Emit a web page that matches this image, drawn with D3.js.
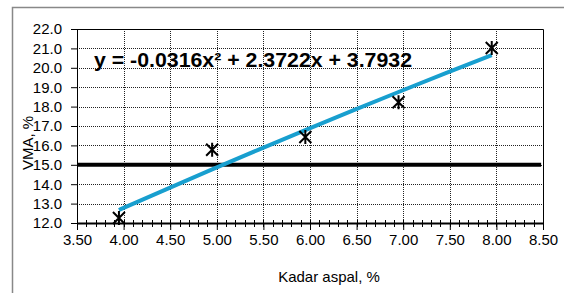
<!DOCTYPE html>
<html>
<head>
<meta charset="utf-8">
<script src="https://cdn.jsdelivr.net/npm/d3@7"></script>
<style>
  body { margin: 0; background: #fff; }
  text { font-family: "Liberation Sans", Arial, sans-serif; }
</style>
</head>
<body>
<svg width="564" height="293"></svg>
<script>
// measured data
const kadarAspal = [3.95, 4.95, 5.95, 6.95, 7.95];
const vma = [12.26, 15.78, 16.43, 18.22, 21.02];
const fitCoef = [-0.0316, 2.3722, 3.7932];
const fitX = [3.95, 4.45, 4.95, 5.45, 5.95, 6.45, 6.95, 7.45, 7.95];
const batasVma = 15.0;
const xTicks = [3.5, 4.0, 4.5, 5.0, 5.5, 6.0, 6.5, 7.0, 7.5, 8.0, 8.5];
const yTicks = [12, 13, 14, 15, 16, 17, 18, 19, 20, 21, 22];

const margin = {top: 29, right: 21, bottom: 70, left: 77};
const width = 564 - margin.left - margin.right;
const height = 293 - margin.top - margin.bottom;

const root = d3.select('svg');

// outer chart border (only left/top visible)
root.append('rect')
    .attr('x', 12.5).attr('y', 7.5)
    .attr('width', 600).attr('height', 320)
    .attr('fill', 'none')
    .attr('stroke', '#888').attr('stroke-width', 1.5);

const svg = root.append('g')
    .attr('transform', 'translate(' + margin.left + ',' + margin.top + ')');

const x = d3.scaleLinear().domain([3.5, 8.5]).range([0, width]);
const y = d3.scaleLinear().domain([12, 22]).range([height, 0]);

// gridlines
svg.append('g').selectAll('line.gx')
    .data(xTicks.slice(1, -1))
    .enter().append('line')
    .attr('x1', d => Math.round(x(d)) + 0.5).attr('x2', d => Math.round(x(d)) + 0.5)
    .attr('y1', 0).attr('y2', height)
    .attr('stroke', '#222').attr('stroke-width', 1)
    .attr('stroke-dasharray', '1,1');
svg.append('g').selectAll('line.gy')
    .data(yTicks.slice(1, -1))
    .enter().append('line')
    .attr('x1', 0).attr('x2', width)
    .attr('y1', d => Math.round(y(d)) + 0.5).attr('y2', d => Math.round(y(d)) + 0.5)
    .attr('stroke', '#222').attr('stroke-width', 1)
    .attr('stroke-dasharray', '1,1');

// plot border top/right
svg.append('path')
    .attr('d', 'M0,0.5H' + (width + 0.5) + 'V' + height)
    .attr('fill', 'none').attr('stroke', '#000');

// minor x ticks
const minor = d3.range(35, 86).map(d => d / 10);
svg.append('g').selectAll('line.mt')
    .data(minor)
    .enter().append('line')
    .attr('x1', d => Math.round(x(d)) + 0.5).attr('x2', d => Math.round(x(d)) + 0.5)
    .attr('y1', height - 3).attr('y2', height + 4)
    .attr('stroke', '#000');

// x axis
const xAxis = svg.append('g')
    .attr('transform', 'translate(0,' + height + ')')
    .call(d3.axisBottom(x).tickValues(xTicks).tickFormat(d3.format('.2f')).tickSize(7).tickSizeOuter(0));
xAxis.select('.domain').attr('stroke-width', 2);
xAxis.selectAll('text').attr('font-size', 15).attr('fill', '#000').attr('dy', '0.82em')
    .attr('font-family', '"Liberation Sans", Arial, sans-serif');

// y axis
const yAxis = svg.append('g')
    .call(d3.axisLeft(y).tickValues(yTicks).tickFormat(d3.format('.1f')).tickSize(6).tickSizeOuter(0));
yAxis.selectAll('text').attr('font-size', 15).attr('fill', '#000').attr('x', -15)
    .attr('font-family', '"Liberation Sans", Arial, sans-serif');

// batas VMA line
svg.append('line')
    .attr('x1', x(3.5)).attr('x2', x(8.48))
    .attr('y1', y(batasVma)).attr('y2', y(batasVma))
    .attr('stroke', '#000').attr('stroke-width', 4);

// trend line
const fit = v => fitCoef[0] * v * v + fitCoef[1] * v + fitCoef[2];
const line = d3.line()
    .x(d => x(d))
    .y(d => y(fit(d)))
    .curve(d3.curveMonotoneX);
svg.append('path')
    .datum(fitX)
    .attr('d', line)
    .attr('fill', 'none')
    .attr('stroke', '#189fcf')
    .attr('stroke-width', 4);

// star markers
const pts = kadarAspal.map((k, i) => ({k: k, v: vma[i]}));
const s = 6;
svg.append('g').selectAll('path.pt')
    .data(pts)
    .enter().append('path')
    .attr('transform', d => 'translate(' + x(d.k) + ',' + y(d.v) + ')')
    .attr('d', 'M' + (-s) + ',' + (-s) + 'L' + s + ',' + s + 'M' + s + ',' + (-s) + 'L' + (-s) + ',' + s + 'M0,' + (-s - 1) + 'V' + (s + 1))
    .attr('stroke', '#000').attr('stroke-width', 2).attr('fill', 'none');

// equation
svg.append('text')
    .attr('x', 94 - margin.left).attr('y', 67 - margin.top)
    .attr('font-size', 20).attr('font-weight', 'bold')
    .attr('textLength', 318).attr('lengthAdjust', 'spacingAndGlyphs')
    .text('y = -0.0316x\u00b2 + 2.3722x + 3.7932');

// axis titles
root.append('text')
    .attr('x', 329).attr('y', 282)
    .attr('text-anchor', 'middle')
    .attr('font-size', 15)
    .text('Kadar aspal, %');
root.append('text')
    .attr('transform', 'translate(33,143) rotate(-90)')
    .attr('text-anchor', 'middle')
    .attr('font-size', 15)
    .text('VMA, %');
</script>
</body>
</html>
